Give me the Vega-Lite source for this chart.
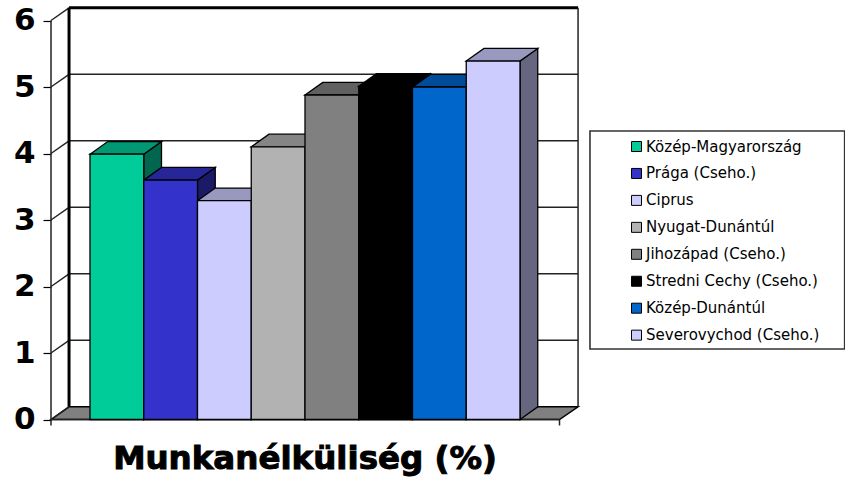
{
"$schema":"https://vega.github.io/schema/vega-lite/v6.json",
"width":794,"height":478,"padding":{"left":51,"right":0,"top":0,"bottom":0},"autosize":{"type":"none"},
"background":"white",
"config":{"view":{"stroke":null}},
"datasets":{
"bars":[
{"region":"Közép-Magyarország","value":3.99,"order":0},
{"region":"Prága (Cseho.)","value":3.6,"order":1},
{"region":"Ciprus","value":3.29,"order":2},
{"region":"Nyugat-Dunántúl","value":4.1,"order":3},
{"region":"Jihozápad (Cseho.)","value":4.88,"order":4},
{"region":"Stredni Cechy (Cseho.)","value":5.01,"order":5},
{"region":"Közép-Dunántúl","value":5.0,"order":6},
{"region":"Severovychod (Cseho.)","value":5.39,"order":7}
],
"ticks":[{"tick":0},{"tick":1},{"tick":2},{"tick":3},{"tick":4},{"tick":5},{"tick":6}],
"floor":[{"x":-0.7256,"lo":0,"hi":0},{"x":-0.39,"lo":0,"hi":0.19},{"x":8.735,"lo":0,"hi":0.19},{"x":9.08,"lo":0.19,"hi":0.19}]
},
"resolve":{"scale":{"fill":"independent"}},
"layer":[
{"data":{"values":[{"a":1}]},"mark":{"type":"rect","fill":"white","stroke":"#333333","strokeWidth":1.6},
 "encoding":{"x":{"datum":9.302,"type":"quantitative","scale":{"domain":[-0.7256,14.0465],"nice":false,"zero":false},"axis":null},"x2":{"datum":14.04},
 "y":{"datum":4.338,"type":"quantitative","scale":{"domain":[-0.8797,6.3083],"nice":false,"zero":false},
  "axis":{"values":[0,1,2,3,4,5,6],"format":"d","title":null,"domain":false,"grid":false,"ticks":true,"labels":true,"tickSize":8,"tickColor":"#000000","tickWidth":1.2,"labelPadding":8,"labelFont":"DejaVu Sans","labelFontWeight":"bold","labelFontSize":31,"labelColor":"#000000","labelBaseline":"middle"}},"y2":{"datum":1.06}}},
{"data":{"name":"floor"},"mark":{"type":"area","orient":"vertical","fill":"#808080","stroke":"#000000","strokeWidth":1.5},
 "encoding":{"x":{"field":"x","type":"quantitative","scale":{"domain":[-0.7256,14.0465],"nice":false,"zero":false},"axis":null},
 "y":{"field":"hi","type":"quantitative","scale":{"domain":[-0.8797,6.3083],"nice":false,"zero":false}},"y2":{"field":"lo"}}},
{"data":{"name":"ticks"},"transform":[{"calculate":"datum.tick+0.19","as":"back"}],"mark":{"type":"rule","stroke":"#222222","strokeWidth":1.4},
 "encoding":{"x":{"datum":-0.7256,"type":"quantitative","scale":{"domain":[-0.7256,14.0465],"nice":false,"zero":false},"axis":null},"x2":{"datum":-0.39},
 "y":{"field":"tick","type":"quantitative","scale":{"domain":[-0.8797,6.3083],"nice":false,"zero":false}},"y2":{"field":"back"}}},
{"data":{"name":"ticks"},"transform":[{"calculate":"datum.tick+0.19","as":"back"},{"filter":"datum.tick>0 && datum.tick<6"}],"mark":{"type":"rule","stroke":"#222222","strokeWidth":1.5},
 "encoding":{"x":{"datum":-0.39,"type":"quantitative","scale":{"domain":[-0.7256,14.0465],"nice":false,"zero":false},"axis":null},"x2":{"datum":9.08},
 "y":{"field":"back","type":"quantitative","scale":{"domain":[-0.8797,6.3083],"nice":false,"zero":false}}}},
{"data":{"values":[{"x":-0.39,"x2":-0.39,"y":0.19,"y2":6.19},{"x":-0.39,"x2":9.08,"y":6.19,"y2":6.19}]},"mark":{"type":"rule","stroke":"#000000","strokeWidth":3},
 "encoding":{"x":{"field":"x","type":"quantitative","scale":{"domain":[-0.7256,14.0465],"nice":false,"zero":false},"axis":null},"x2":{"field":"x2"},
 "y":{"field":"y","type":"quantitative","scale":{"domain":[-0.8797,6.3083],"nice":false,"zero":false}},"y2":{"field":"y2"}}},
{"data":{"values":[{"x":9.08,"x2":9.08,"y":0.19,"y2":6.19},{"x":-0.7256,"x2":-0.7256,"y":-0.09,"y2":6},{"x":8.735,"x2":8.735,"y":-0.09,"y2":0},{"x":-0.7256,"x2":8.735,"y":0,"y2":0}]},"mark":{"type":"rule","stroke":"#222222","strokeWidth":1.5},
 "encoding":{"x":{"field":"x","type":"quantitative","scale":{"domain":[-0.7256,14.0465],"nice":false,"zero":false},"axis":null},"x2":{"field":"x2"},
 "y":{"field":"y","type":"quantitative","scale":{"domain":[-0.8797,6.3083],"nice":false,"zero":false}},"y2":{"field":"y2"}}},
{"data":{"name":"bars"},"transform":[{"calculate":"[0,1]","as":"pts"},{"flatten":["pts"],"as":["t"]},{"calculate":"datum.order+1+datum.t*0.33","as":"sx"},{"calculate":"datum.value+datum.t*0.19","as":"sy"},{"calculate":"datum.t*0.19","as":"sy2"}],
 "mark":{"type":"area","orient":"vertical","stroke":"#000000","strokeWidth":1.3},
 "encoding":{"x":{"field":"sx","type":"quantitative","scale":{"domain":[-0.7256,14.0465],"nice":false,"zero":false},"axis":null},
 "y":{"field":"sy","type":"quantitative","scale":{"domain":[-0.8797,6.3083],"nice":false,"zero":false}},"y2":{"field":"sy2"},
 "fill":{"field":"region","type":"nominal","legend":null,"scale":{"domain":["Közép-Magyarország","Prága (Cseho.)","Ciprus","Nyugat-Dunántúl","Jihozápad (Cseho.)","Stredni Cechy (Cseho.)","Közép-Dunántúl","Severovychod (Cseho.)"],"range":["#006650","#1A1A66","#666680","#595959","#404040","#000000","#003366","#666680"]}}}},
{"data":{"name":"bars"},"transform":[{"calculate":"[0,0.33,1,1.33]","as":"pts"},{"flatten":["pts"],"as":["t"]},{"calculate":"datum.order+datum.t","as":"tx"},{"calculate":"datum.value+min(datum.t/0.33,1)*0.19","as":"ty"},{"calculate":"datum.value+max(datum.t-1,0)/0.33*0.19","as":"ty2"}],
 "mark":{"type":"area","orient":"vertical","stroke":"#000000","strokeWidth":1.3},
 "encoding":{"x":{"field":"tx","type":"quantitative","scale":{"domain":[-0.7256,14.0465],"nice":false,"zero":false},"axis":null},
 "y":{"field":"ty","type":"quantitative","scale":{"domain":[-0.8797,6.3083],"nice":false,"zero":false}},"y2":{"field":"ty2"},
 "fill":{"field":"region","type":"nominal","legend":null,"scale":{"domain":["Közép-Magyarország","Prága (Cseho.)","Ciprus","Nyugat-Dunántúl","Jihozápad (Cseho.)","Stredni Cechy (Cseho.)","Közép-Dunántúl","Severovychod (Cseho.)"],"range":["#009973","#262699","#9999BF","#858585","#606060","#000000","#004C99","#9999BF"]}}}},
{"data":{"name":"bars"},"transform":[{"calculate":"datum.order+1","as":"end"}],
 "mark":{"type":"rect","stroke":"#000000","strokeWidth":1.3},
 "encoding":{"x":{"field":"order","type":"quantitative","scale":{"domain":[-0.7256,14.0465],"nice":false,"zero":false},"axis":null},"x2":{"field":"end"},
 "y":{"field":"value","type":"quantitative","scale":{"domain":[-0.8797,6.3083],"nice":false,"zero":false}},"y2":{"datum":0},
 "fill":{"field":"region","type":"nominal","scale":{"domain":["Közép-Magyarország","Prága (Cseho.)","Ciprus","Nyugat-Dunántúl","Jihozápad (Cseho.)","Stredni Cechy (Cseho.)","Közép-Dunántúl","Severovychod (Cseho.)"],"range":["#00CC99","#3333CC","#CCCCFF","#B2B2B2","#808080","#000000","#0066CC","#CCCCFF"]},
  "legend":{"title":null,"orient":"none","legendX":578,"legendY":139,"padding":0,"symbolType":"square","symbolSize":100,"symbolStrokeColor":"#000000","symbolStrokeWidth":1,"labelFont":"DejaVu Sans","labelFontSize":15,"labelColor":"#000000","labelOffset":2,"rowPadding":10.95,"labelLimit":220}}}},
{"data":{"values":[{"label":"Munkanélküliség (%)"}]},"mark":{"type":"text","font":"DejaVu Sans","fontWeight":"bold","fontSize":32.5,"align":"center","baseline":"alphabetic","stroke":"#000000","strokeWidth":1,"fill":"#000000"},
 "encoding":{"text":{"field":"label"},"x":{"datum":4.0,"type":"quantitative","scale":{"domain":[-0.7256,14.0465],"nice":false,"zero":false},"axis":null},
 "y":{"datum":-0.7444,"type":"quantitative","scale":{"domain":[-0.8797,6.3083],"nice":false,"zero":false}}}}
]
}
